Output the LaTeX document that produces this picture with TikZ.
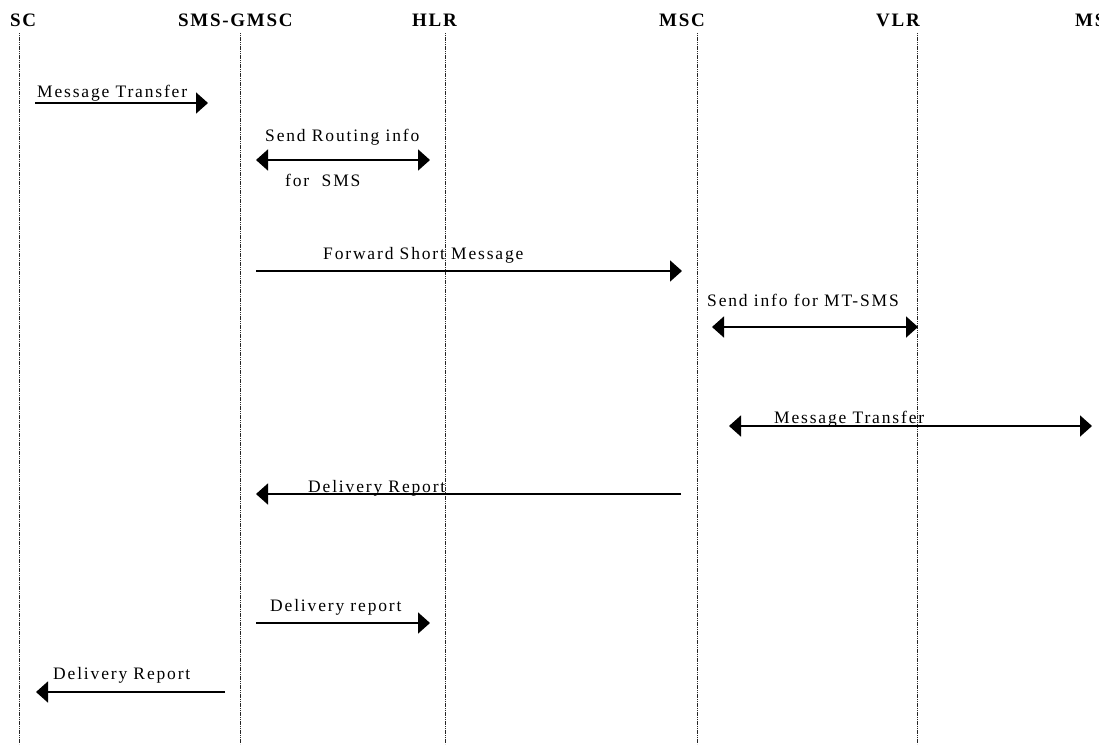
\documentclass[tikz,border=0pt]{standalone}
\usepackage{fontspec}
\setmainfont{Liberation Serif}
\newfontfamily\msgfont[LetterSpace=10.5]{Liberation Serif}
\newfontfamily\hdrfont[LetterSpace=9]{Liberation Serif}
\usetikzlibrary{arrows.meta}
\begin{document}
\begin{tikzpicture}[x=1pt,y=-1pt,
  lifeline/.style={draw=black!85,line width=1pt,dash pattern=on 1.2pt off 0.6pt},
  hdr/.style={anchor=base west,inner sep=0pt,font=\hdrfont\bfseries\fontsize{19}{22}\selectfont},
  lbl/.style={anchor=base west,inner sep=0pt,font=\msgfont\fontsize{17.5}{20}\selectfont},
  msg/.style={line width=1.8pt,-{Triangle[length=12pt,width=21pt]}},
  dmsg/.style={line width=1.8pt,{Triangle[length=12pt,width=21pt]}-{Triangle[length=12pt,width=21pt]}}]
\useasboundingbox (0,0) rectangle (1099,744);

% headers
\node[hdr] (hSC)   at (10,27)   {SC};
\node[hdr] (hGMSC) at (178,27)  {SMS-GMSC};
\node[hdr] (hHLR)  at (412,27)  {HLR};
\node[hdr] (hMSC)  at (659,27)  {MSC};
\node[hdr] (hVLR)  at (876,27)  {VLR};
\node[hdr] (hMS)   at (1075,27) {MS};

% lifelines
\coordinate (scT) at (19.5,33);  \coordinate (scB) at (19.5,744);
\coordinate (gmT) at (240,33);   \coordinate (gmB) at (240,744);
\coordinate (hlT) at (445,33);   \coordinate (hlB) at (445,744);
\coordinate (msT) at (697,33);   \coordinate (msB) at (697,744);
\coordinate (vlT) at (917,33);   \coordinate (vlB) at (917,744);
\draw[lifeline] (scT) -- (scB);
\draw[lifeline] (gmT) -- (gmB);
\draw[lifeline] (hlT) -- (hlB);
\draw[lifeline] (msT) -- (msB);
\draw[lifeline] (vlT) -- (vlB);

% 1 Message Transfer SC -> SMS-GMSC
\coordinate (a1s) at (35,103);  \coordinate (a1e) at (208,103);
\draw[msg] (a1s) -- (a1e);
\node[lbl] (l1) at (37,97) {Message Transfer};

% 2 Send Routing info for SMS
\coordinate (a2s) at (256,160); \coordinate (a2e) at (430,160);
\draw[dmsg] (a2s) -- (a2e);
\node[lbl] (l2a) at (265,141) {Send Routing info};
\node[lbl] (l2b) at (285,186) {for\ \ SMS};

% 3 Forward Short Message
\coordinate (a3s) at (256,271); \coordinate (a3e) at (682,271);
\draw[msg] (a3s) -- (a3e);
\node[lbl] (l3) at (323,259) {Forward Short Message};

% 4 Send info for MT-SMS
\coordinate (a4s) at (712,327); \coordinate (a4e) at (918,327);
\draw[dmsg] (a4s) -- (a4e);
\node[lbl] (l4) at (707,306) {Send info for MT-SMS};

% 5 Message Transfer MSC <-> MS
\coordinate (a5s) at (729,426); \coordinate (a5e) at (1092,426);
\draw[dmsg] (a5s) -- (a5e);
\node[lbl] (l5) at (774,423) {Message Transfer};

% 6 Delivery Report MSC -> SMS-GMSC
\coordinate (a6s) at (681,494); \coordinate (a6e) at (256,494);
\draw[msg] (a6s) -- (a6e);
\node[lbl] (l6) at (308,492) {Delivery Report};

% 7 Delivery report SMS-GMSC -> HLR
\coordinate (a7s) at (256,623); \coordinate (a7e) at (430,623);
\draw[msg] (a7s) -- (a7e);
\node[lbl] (l7) at (270,611) {Delivery report};

% 8 Delivery Report SMS-GMSC -> SC
\coordinate (a8s) at (225,692); \coordinate (a8e) at (36,692);
\draw[msg] (a8s) -- (a8e);
\node[lbl] (l8) at (53,679) {Delivery Report};
\end{tikzpicture}
\end{document}
